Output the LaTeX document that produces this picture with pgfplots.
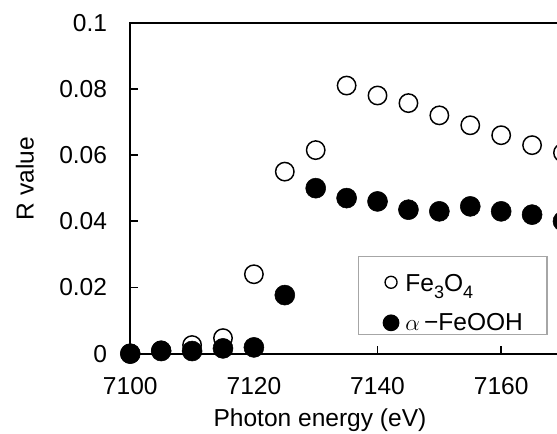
\documentclass[border=0pt]{standalone}
\usepackage{pgfplots}
\pgfplotsset{compat=1.18}
\usepackage{fontspec}
\setmainfont{Liberation Sans}
\definecolor{legendgray}{HTML}{A6A6A6}
\newcommand{\sub}[1]{\raisebox{-5.5pt}{\fontsize{13.5pt}{14pt}\selectfont #1}}

\begin{document}
\begin{tikzpicture}[font=\fontsize{18.4pt}{22pt}\selectfont]
\useasboundingbox (0,0) rectangle (417.75pt,324.75pt);
\begin{axis}[
    at={(97.7pt,59.5pt)}, anchor=south west,
    scale only axis,
    width=370.9pt, height=248.25pt,
    xmin=7100, xmax=7180,
    ymin=0, ymax=0.1,
    clip=false,
    axis line style={line width=1.5pt, black},
    xtick={7100,7120,7140,7160},
    xticklabels={7100,7120,7140,7160},
    ytick={0,0.02,0.04,0.06,0.08,0.1},
    yticklabels={0,0.02,0.04,0.06,0.08,0.1},
    scaled ticks=false,
    xtick pos=left, ytick pos=left,
    tick align=inside,
    major tick length=6pt,
    tick style={line width=1.2pt, black},
    xticklabel style={anchor=north, inner sep=0pt, yshift=-17.25pt},
    yticklabel style={anchor=east, inner sep=0pt, xshift=-17.25pt},
    xlabel={Photon energy (eV)},
    xlabel style={at={(axis description cs:0.3836,-0.2205)}, anchor=base},
    ylabel={R value},
    ylabel style={at={(axis description cs:-0.213,0.529)}, anchor=center},
    legend style={
        at={(axis description cs:0.4605,0.296)}, anchor=north west,
        draw=legendgray, line width=1pt, fill=white,
        inner xsep=18pt, inner ysep=2.25pt,
        row sep=5.6pt, column sep=4.5pt,
        nodes={inner sep=0pt, text height=24pt, text depth=0pt},
        cells={anchor=base west},
    },
]
% Fe3O4 (open circles)
\addplot[only marks, mark=*, mark size=6.9pt,
    mark options={draw=black, fill=white, line width=1.1pt},
    legend image code/.code={\draw[black, fill=white, line width=1pt] (0pt,6.8pt) circle (4.5pt);}]
    coordinates {(7100,0) (7105,0.001) (7110,0.0026) (7115,0.0047) (7120,0.024)
                 (7125,0.055) (7130,0.0615) (7135,0.081) (7140,0.078) (7145,0.0757)
                 (7150,0.072) (7155,0.069) (7160,0.066) (7165,0.063) (7170,0.0607)};
\addlegendentry{Fe\sub{3}O\sub{4}}
% alpha-FeOOH (filled circles)
\addplot[only marks, mark=*, mark size=7.5pt,
    mark options={draw=black, fill=black},
    legend image code/.code={\fill[black] (0pt,6pt) circle (5.8pt);}]
    coordinates {(7100,0) (7105,0.0008) (7110,0.0008) (7115,0.0016) (7120,0.0019)
                 (7125,0.0177) (7130,0.050) (7135,0.047) (7140,0.046) (7145,0.0435)
                 (7150,0.043) (7155,0.0445) (7160,0.043) (7165,0.042) (7170,0.040)};
\addlegendentry{$\alpha$\,−FeOOH}
\end{axis}
\end{tikzpicture}
\end{document}
